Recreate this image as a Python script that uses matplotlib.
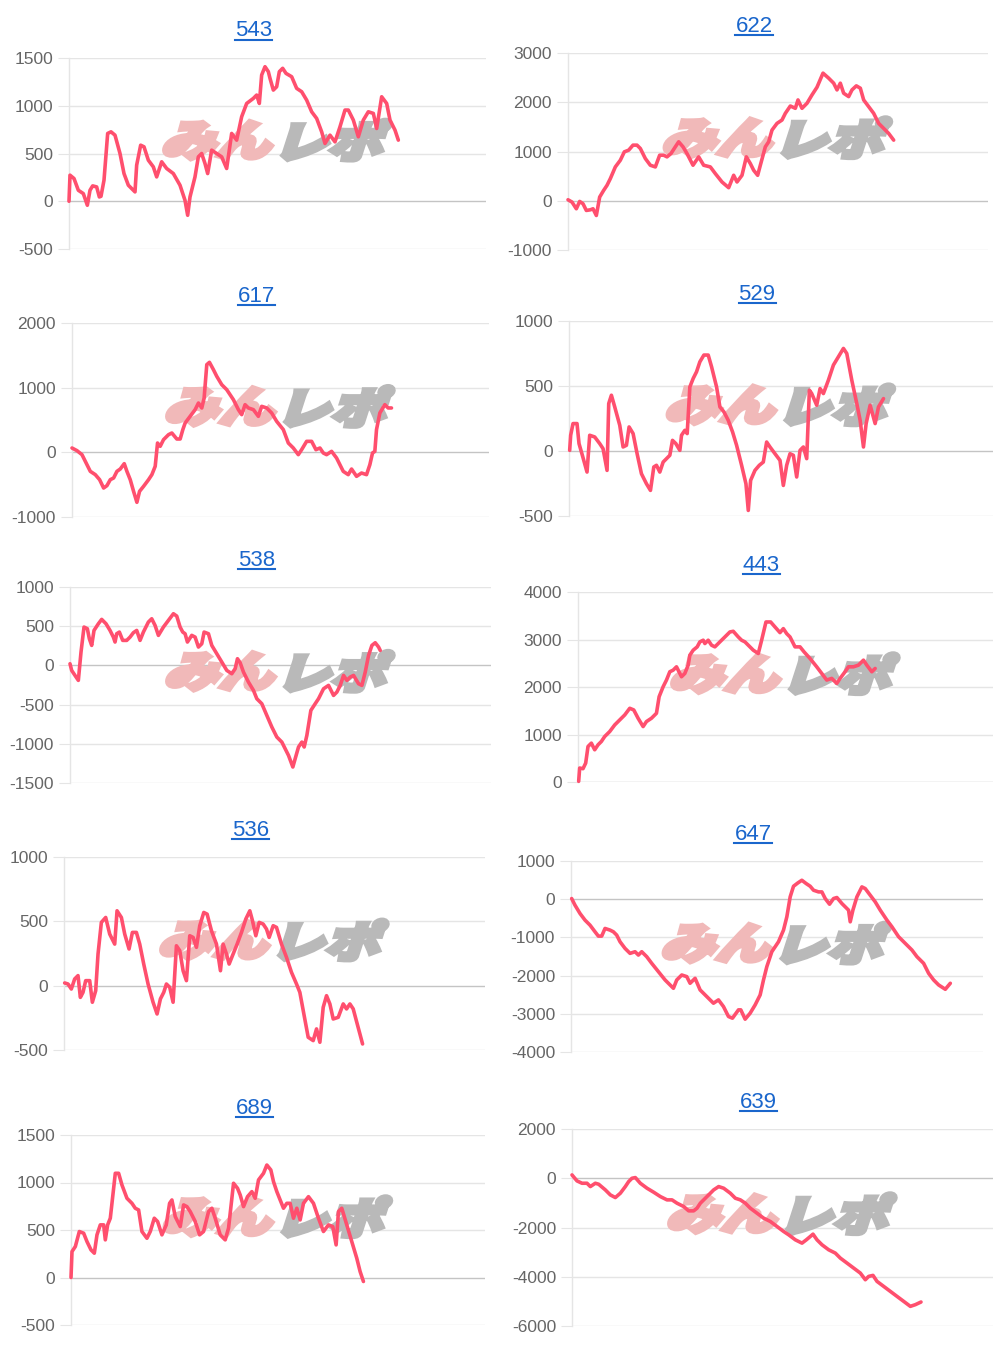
import matplotlib
matplotlib.use("Agg")
import matplotlib.pyplot as plt
from matplotlib.textpath import TextPath
from matplotlib.patches import PathPatch
from matplotlib.font_manager import FontProperties
from matplotlib.lines import Line2D
import matplotlib.transforms as mtransforms

# ---------------- data (x = sample position, y = cumulative difference) ----------------
titles = ["543", "622", "617", "529", "538", "443", "536", "647", "689", "639"]

x_543 = [0, 3, 15, 28, 43, 55, 63, 71, 83, 91, 96, 105, 116, 126, 138, 153, 165, 178, 198, 203, 215, 225, 238, 253, 263, 278, 293, 313, 333, 348, 356, 363, 378, 388, 398, 408, 416, 428, 443, 458, 473, 488, 503, 518, 533, 553, 563, 571, 578, 588, 598, 603, 613, 623, 631, 641, 651, 668, 683, 698, 713, 728, 743, 758, 768, 783, 798, 813, 828, 838, 853, 868, 883, 898, 913, 923, 938, 953, 963, 978, 988]
y_543 = [0, 273, 238, 115, 80, -42, 115, 161, 150, 45, 52, 220, 710, 727, 692, 500, 290, 168, 98, 378, 587, 570, 430, 360, 255, 413, 343, 290, 168, 10, -147, 45, 255, 465, 500, 395, 290, 535, 500, 465, 343, 710, 640, 885, 1024, 1077, 1112, 1024, 1322, 1409, 1357, 1287, 1164, 1199, 1357, 1392, 1339, 1304, 1182, 1147, 1059, 937, 867, 727, 605, 692, 622, 780, 955, 955, 850, 675, 850, 937, 920, 762, 1094, 1024, 850, 745, 640]

x_622 = [0, 12, 25, 35, 45, 55, 67, 75, 85, 95, 107, 117, 127, 142, 157, 169, 182, 195, 207, 217, 232, 247, 262, 275, 287, 297, 309, 322, 332, 345, 357, 375, 392, 407, 427, 442, 462, 482, 497, 507, 522, 535, 547, 557, 569, 577, 592, 602, 612, 627, 642, 652, 667, 682, 690, 702, 717, 732, 747, 765, 782, 797, 807, 817, 827, 842, 852, 865, 877, 887, 902, 917, 932, 947, 962, 977]
y_622 = [20, -27, -163, -14, -61, -197, -184, -163, -299, 75, 211, 313, 449, 687, 823, 993, 1027, 1129, 1129, 1061, 857, 721, 687, 925, 925, 891, 959, 1095, 1197, 1095, 959, 721, 891, 721, 687, 551, 381, 265, 517, 381, 517, 891, 755, 619, 517, 721, 1095, 1197, 1435, 1571, 1639, 1775, 1924, 1877, 2047, 1877, 1979, 2149, 2305, 2591, 2489, 2387, 2251, 2387, 2183, 2115, 2251, 2333, 2285, 2047, 1911, 1775, 1571, 1469, 1367, 1231]

x_617 = [0, 15, 30, 45, 55, 70, 83, 95, 105, 115, 125, 135, 145, 157, 165, 175, 185, 195, 203, 215, 230, 240, 250, 257, 265, 275, 290, 300, 315, 325, 333, 340, 355, 370, 380, 390, 397, 405, 413, 425, 435, 450, 465, 485, 500, 510, 520, 530, 545, 560, 570, 585, 600, 615, 635, 650, 665, 680, 690, 705, 720, 733, 745, 755, 765, 780, 795, 805, 815, 830, 840, 855, 870, 885, 895, 903, 910, 915, 925, 940, 950, 960]
y_617 = [67, 26, -36, -191, -294, -345, -423, -552, -515, -423, -397, -294, -258, -175, -294, -423, -603, -773, -603, -526, -423, -345, -216, 144, 93, 196, 273, 299, 206, 206, 351, 454, 557, 660, 763, 686, 840, 1356, 1392, 1278, 1175, 1046, 969, 814, 660, 583, 737, 686, 660, 557, 711, 686, 608, 479, 351, 144, 67, -36, 41, 170, 170, 41, 67, -10, -36, 15, -88, -191, -294, -345, -258, -371, -320, -345, -191, -10, 15, 351, 608, 737, 686, 686]

x_529 = [2, 5, 12, 24, 30, 40, 54, 62, 77, 92, 102, 114, 119, 127, 137, 152, 162, 172, 180, 192, 204, 217, 232, 244, 254, 262, 272, 282, 292, 302, 310, 320, 332, 337, 347, 354, 362, 372, 382, 392, 404, 417, 427, 442, 452, 464, 477, 490, 502, 517, 530, 537, 544, 557, 570, 582, 592, 602, 617, 632, 642, 652, 662, 672, 682, 692, 702, 712, 720, 727, 742, 752, 762, 777, 792, 807, 822, 832, 847, 862, 872, 882, 890, 902, 917, 927, 942]
y_529 = [5, 121, 211, 211, 57, -33, -162, 121, 108, 57, 18, -149, 365, 429, 339, 198, 31, 44, 185, 134, -21, -175, -252, -303, -123, -110, -162, -85, -59, -33, 82, 57, 5, 121, 159, 134, 493, 558, 609, 686, 738, 738, 648, 493, 339, 301, 236, 146, 44, -110, -252, -457, -226, -149, -110, -85, 69, 31, -21, -72, -265, -110, -21, -33, -200, 5, 31, -59, 468, 442, 352, 480, 442, 545, 661, 725, 789, 750, 545, 365, 236, 31, 211, 352, 211, 339, 403]

x_538 = [0, 5, 15, 25, 33, 42, 52, 58, 65, 72, 85, 95, 108, 120, 130, 135, 140, 148, 158, 170, 180, 190, 200, 210, 220, 235, 245, 255, 265, 280, 295, 310, 320, 330, 338, 345, 352, 365, 375, 385, 395, 402, 415, 425, 440, 455, 470, 485, 495, 502, 510, 520, 535, 550, 560, 575, 590, 605, 620, 635, 645, 655, 668, 675, 685, 695, 702, 710, 722, 735, 745, 760, 775, 790, 800, 810, 820, 830, 840, 850, 865, 875, 885, 895, 905, 915, 925, 930]
y_538 = [21, -64, -128, -191, 170, 489, 468, 340, 255, 446, 531, 587, 531, 446, 361, 298, 404, 425, 319, 319, 361, 417, 446, 319, 425, 553, 595, 510, 383, 489, 574, 659, 629, 489, 425, 404, 298, 383, 361, 234, 276, 425, 404, 255, 149, 43, -64, -106, -43, 85, 34, -85, -213, -319, -425, -489, -638, -786, -914, -978, -1063, -1148, -1296, -1190, -1041, -978, -1041, -893, -574, -489, -425, -298, -255, -383, -340, -255, -128, -191, -149, -128, -234, -255, -85, 128, 255, 289, 234, 191]

x_443 = [2, 5, 15, 23, 30, 40, 50, 60, 70, 80, 95, 110, 125, 140, 155, 167, 180, 195, 205, 220, 235, 243, 255, 265, 275, 285, 295, 310, 320, 330, 335, 345, 357, 365, 375, 380, 390, 400, 410, 425, 440, 455, 465, 480, 490, 500, 510, 525, 540, 550, 563, 577, 590, 605, 615, 625, 635, 650, 665, 677, 695, 715, 730, 745, 760, 775, 785, 800, 810, 825, 840, 855, 865, 880, 890]
y_443 = [14, 294, 280, 398, 748, 818, 678, 783, 853, 958, 1062, 1202, 1307, 1412, 1552, 1517, 1342, 1167, 1272, 1342, 1447, 1796, 2006, 2146, 2321, 2355, 2425, 2216, 2286, 2460, 2670, 2775, 2845, 2950, 2985, 2915, 2985, 2880, 2845, 2950, 3054, 3159, 3173, 3054, 2985, 2950, 2880, 2775, 2705, 2985, 3369, 3369, 3264, 3145, 3229, 3124, 3054, 2845, 2845, 2740, 2600, 2425, 2286, 2146, 2181, 2076, 2181, 2321, 2425, 2425, 2460, 2565, 2460, 2321, 2390]

x_536 = [2, 12, 22, 32, 42, 49, 57, 65, 77, 85, 95, 102, 112, 125, 137, 152, 159, 172, 182, 195, 205, 217, 227, 239, 252, 267, 279, 289, 299, 307, 317, 327, 337, 347, 357, 367, 377, 387, 397, 407, 419, 429, 442, 457, 469, 477, 487, 495, 507, 519, 532, 545, 557, 565, 575, 585, 597, 607, 615, 627, 637, 652, 667, 682, 697, 707, 719, 732, 747, 757, 767, 777, 787, 797, 807, 822, 837, 847, 857, 867, 875, 887, 895]
y_536 = [21, 13, -26, 52, 78, -91, -52, 39, 39, -129, -39, 246, 492, 530, 401, 323, 582, 530, 401, 285, 414, 414, 323, 168, 13, -129, -220, -103, -52, 13, -13, -129, 310, 272, 116, 39, 388, 375, 298, 466, 569, 556, 427, 323, 116, 323, 246, 168, 246, 323, 414, 518, 582, 505, 388, 492, 479, 440, 375, 466, 453, 323, 220, 103, 13, -52, -220, -401, -427, -336, -440, -168, -78, -142, -259, -246, -142, -181, -142, -181, -259, -375, -453]

x_647 = [2, 12, 27, 42, 57, 72, 82, 92, 102, 117, 127, 137, 147, 162, 177, 192, 202, 212, 227, 242, 262, 282, 297, 307, 317, 332, 347, 357, 372, 387, 407, 427, 442, 457, 472, 484, 502, 509, 522, 537, 552, 567, 577, 587, 602, 622, 637, 647, 657, 667, 680, 692, 705, 717, 727, 742, 752, 762, 775, 787, 797, 812, 832, 837, 845, 857, 872, 882, 897, 912, 927, 947, 962, 982, 1002, 1022, 1037, 1057, 1072, 1087, 1102, 1122, 1137]
y_647 = [17, -157, -374, -548, -679, -853, -966, -966, -766, -809, -853, -940, -1114, -1288, -1418, -1375, -1462, -1375, -1505, -1679, -1897, -2114, -2245, -2332, -2114, -1984, -2027, -2201, -2071, -2375, -2549, -2723, -2636, -2810, -3071, -3115, -2897, -2897, -3141, -2984, -2767, -2506, -2114, -1766, -1375, -1114, -809, -461, 61, 339, 426, 496, 409, 339, 235, 191, 191, 17, -131, 17, 44, -113, -287, -592, -287, 61, 322, 278, 104, -70, -287, -548, -722, -983, -1157, -1331, -1505, -1679, -1940, -2114, -2245, -2358, -2201]

x_689 = [0, 3, 13, 25, 38, 48, 60, 70, 78, 88, 98, 103, 110, 118, 128, 133, 143, 153, 168, 183, 193, 203, 213, 228, 238, 250, 260, 273, 286, 296, 303, 313, 328, 338, 348, 358, 373, 386, 398, 413, 423, 433, 448, 463, 473, 488, 500, 508, 518, 530, 543, 553, 563, 578, 588, 600, 608, 618, 628, 638, 648, 658, 668, 678, 688, 698, 713, 728, 743, 758, 773, 786, 796, 803, 813, 828, 843, 858, 868, 878]
y_689 = [0, 273, 326, 484, 466, 378, 291, 256, 449, 554, 554, 396, 554, 624, 939, 1097, 1097, 974, 834, 781, 729, 711, 484, 413, 484, 624, 589, 449, 554, 781, 816, 641, 536, 764, 746, 694, 589, 449, 484, 694, 729, 624, 449, 396, 519, 992, 939, 869, 746, 851, 904, 834, 1027, 1097, 1184, 1132, 1009, 904, 816, 729, 781, 781, 624, 729, 606, 781, 851, 781, 624, 484, 554, 536, 343, 694, 729, 554, 378, 203, 63, -42]

x_639 = [0, 15, 30, 45, 55, 70, 80, 100, 115, 130, 145, 160, 170, 180, 190, 205, 225, 245, 265, 285, 300, 315, 335, 350, 365, 375, 385, 405, 425, 440, 455, 475, 490, 505, 520, 535, 555, 575, 595, 615, 635, 650, 670, 690, 703, 715, 723, 735, 750, 770, 790, 805, 825, 845, 865, 880, 890, 903, 915, 935, 955, 975, 995, 1015, 1030, 1047]
y_639 = [135, -108, -203, -203, -338, -203, -243, -473, -676, -784, -608, -338, -135, 0, 27, -203, -405, -567, -743, -878, -878, -1013, -1148, -1324, -1324, -1216, -1013, -743, -473, -338, -405, -608, -811, -878, -1013, -1216, -1419, -1621, -1756, -1959, -2162, -2297, -2500, -2635, -2500, -2364, -2270, -2500, -2702, -2905, -3040, -3243, -3445, -3648, -3851, -4121, -3986, -3945, -4188, -4391, -4594, -4797, -4999, -5202, -5134, -5026]

xs = [x_543, x_622, x_617, x_529, x_538, x_443, x_536, x_647, x_689, x_639]
ys = [y_543, y_622, y_617, y_529, y_538, y_443, y_536, y_647, y_689, y_639]

y_ticks = [
    [-500, 0, 500, 1000, 1500],
    [-1000, 0, 1000, 2000, 3000],
    [-1000, 0, 1000, 2000],
    [-500, 0, 500, 1000],
    [-1500, -1000, -500, 0, 500, 1000],
    [0, 1000, 2000, 3000, 4000],
    [-500, 0, 500, 1000],
    [-4000, -3000, -2000, -1000, 0, 1000],
    [-500, 0, 500, 1000, 1500],
    [-6000, -4000, -2000, 0, 2000],
]

# ---------------- layout (pixel boxes of each plot area: left, right, top, bottom) ----------------
W, H = 1000, 1346
boxes = [
    (69, 486, 58, 249), (568, 988, 53, 250),
    (72, 489, 323, 517), (569, 993, 321, 516),
    (70, 491, 587, 783), (578, 993, 592, 782),
    (64, 485, 857, 1050), (571, 983, 861, 1052),
    (71, 485, 1135, 1325), (572, 993, 1129, 1326),
]
x_span = [1251, 1260, 1253, 1270, 1262, 1243, 1262, 1235, 1243, 1263]

LINE = "#ff4f6e"
GRID = "#e5e5e5"
ZERO = "#c4c4c4"
TICKC = "#666666"
TITLEC = "#1a66cc"

plt.rcParams['font.family'] = ['Liberation Sans', 'DejaVu Sans']
fig = plt.figure(figsize=(W / 100, H / 100), dpi=100)
fig.patch.set_facecolor("white")

jp = FontProperties(family="Noto Sans CJK JP", weight="black")

title_texts = []
for i in range(10):
    l, r, t, b = boxes[i]
    ax = fig.add_axes([l / W, 1 - b / H, (r - l) / W, (b - t) / H])
    ticks = y_ticks[i]
    ax.set_ylim(ticks[0], ticks[-1])
    ax.set_xlim(0, x_span[i])
    ax.set_yticks(ticks)
    ax.set_yticklabels([str(v) for v in ticks])
    ax.set_xticks([])
    for s in ["top", "right", "bottom"]:
        ax.spines[s].set_visible(False)
    ax.spines["left"].set_color(GRID)
    ax.spines["left"].set_linewidth(1)
    ax.tick_params(axis="y", length=8, width=0.8, color=GRID, pad=3.5,
                   labelsize=12.5, labelcolor=TICKC)
    for v in ticks:
        ax.axhline(v, color=(ZERO if v == 0 else GRID), lw=1, zorder=1)
    ax.set_facecolor("none")

    # watermark
    cx = (l + r) / 2 + 1
    cy = H - (t + 0.43 * (b - t))
    fs = 50
    for txt, col, dx in [("みん", "#f1b9b9", -58), ("レポ", "#b9b9b9", 58)]:
        tp = TextPath((0, 0), txt, size=fs, prop=jp)
        bb = tp.get_extents()
        tr = (mtransforms.Affine2D()
              .translate(-(bb.x0 + bb.x1) / 2, -(bb.y0 + bb.y1) / 2)
              .skew_deg(14, 0)
              .scale(1.1, 0.85)
              .translate(cx + dx, cy))
        patch = PathPatch(tp, transform=tr, facecolor=col, edgecolor=col,
                          linewidth=3.5, joinstyle="miter", zorder=2)
        patch.set_clip_on(False)
        ax.add_artist(patch)
        patch.set_transform(tr)

    ax.plot(xs[i], ys[i], color=LINE, lw=2.6, solid_joinstyle="round",
            solid_capstyle="round", zorder=5, clip_on=False)

    tx = (l + r) / 2 - 24
    ty = t - 27
    tt = fig.text(tx / W, 1 - ty / H, titles[i], ha="center", va="center",
                  fontsize=16, color=TITLEC)
    title_texts.append(tt)

fig.canvas.draw()
renderer = fig.canvas.get_renderer()
for tt in title_texts:
    bb = tt.get_window_extent(renderer)
    yline = bb.y0 + 2
    fig.add_artist(Line2D([bb.x0 / W, bb.x1 / W], [yline / H, yline / H],
                          transform=fig.transFigure, color=TITLEC, lw=1.5))

fig.savefig("out.png", dpi=100, facecolor="white")
